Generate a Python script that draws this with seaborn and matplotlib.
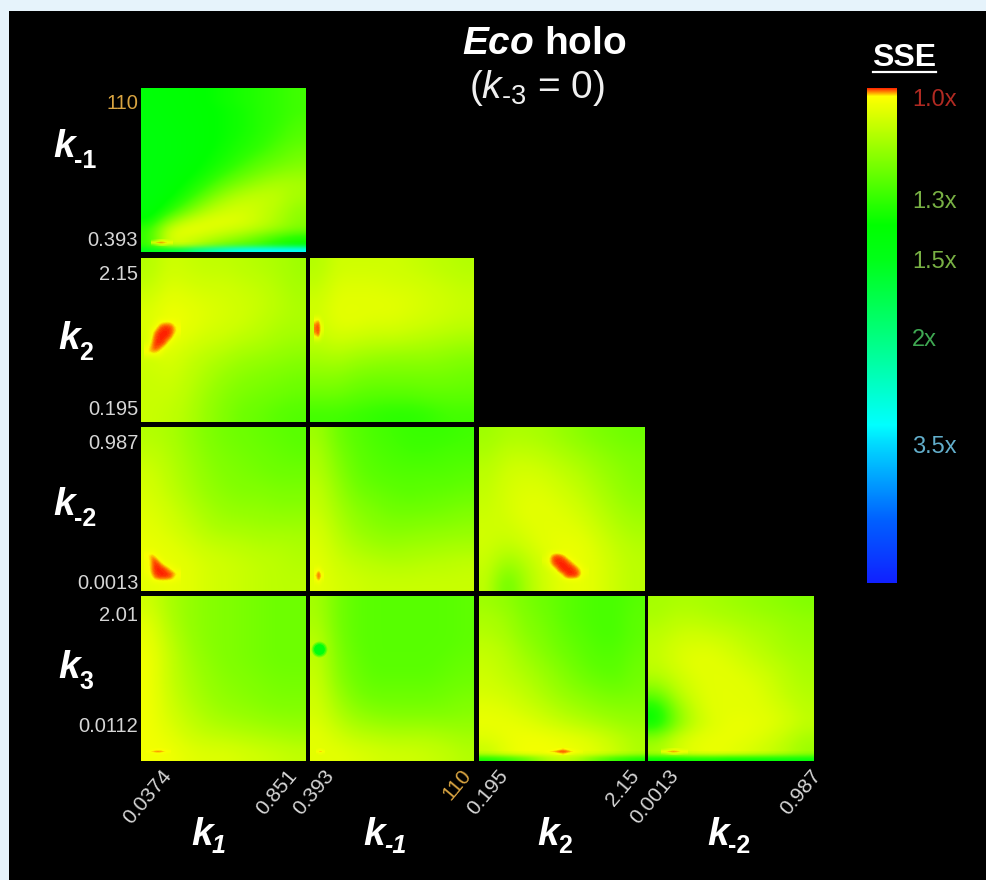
import numpy as np
import pandas as pd
import seaborn as sns
import matplotlib.pyplot as plt
from matplotlib.colors import LinearSegmentedColormap, FuncNorm
from matplotlib.lines import Line2D
from matplotlib.patches import Rectangle

# colour scale
sse_stops = [1.0, 1.005, 1.012, 1.09, 1.26, 1.30, 1.38, 1.5, 2.0, 3.0, 3.5, 5.5, 8.0]
bar_rows = [88, 91, 96, 124, 185, 200, 225, 260, 338, 425, 445, 520, 583]
bar_colors = ['#ff2000', '#ff7000', '#ffff00', '#c8ff00', '#50ff00', '#30ff00', '#00ff00',
              '#00ff18', '#00ff80', '#00ffff', '#00d8ff', '#0060ff', '#1020ff']
sse_ticks = ['1.0x', '1.3x', '1.5x', '2x', '3.5x']
sse_tick_at = [1.024, 1.305, 1.51, 2.02, 3.55]
sse_tick_colors = ['#b02a22', '#78b044', '#78b044', '#3fa852', '#62aecb']

# SSE ratio per panel, rows top to bottom
k_m1_vs_k1 = [
    [1.42, 1.40, 1.40, 1.38, 1.36, 1.34, 1.32, 1.30, 1.28],
    [1.42, 1.41, 1.40, 1.38, 1.36, 1.34, 1.32, 1.30, 1.28],
    [1.43, 1.41, 1.40, 1.39, 1.37, 1.35, 1.32, 1.30, 1.28],
    [1.43, 1.42, 1.40, 1.39, 1.37, 1.35, 1.32, 1.30, 1.27],
    [1.44, 1.42, 1.41, 1.39, 1.37, 1.35, 1.32, 1.29, 1.26],
    [1.44, 1.43, 1.41, 1.39, 1.37, 1.34, 1.31, 1.28, 1.25],
    [1.44, 1.43, 1.41, 1.39, 1.36, 1.33, 1.30, 1.26, 1.23],
    [1.44, 1.43, 1.41, 1.38, 1.35, 1.31, 1.27, 1.24, 1.21],
    [1.44, 1.42, 1.40, 1.37, 1.33, 1.28, 1.24, 1.21, 1.19],
    [1.44, 1.42, 1.39, 1.35, 1.29, 1.24, 1.20, 1.17, 1.16],
    [1.44, 1.41, 1.37, 1.31, 1.24, 1.19, 1.15, 1.13, 1.14],
    [1.44, 1.40, 1.34, 1.26, 1.18, 1.13, 1.11, 1.11, 1.14],
    [1.43, 1.37, 1.29, 1.19, 1.12, 1.09, 1.09, 1.11, 1.15],
    [1.42, 1.32, 1.21, 1.12, 1.08, 1.07, 1.09, 1.12, 1.17],
    [1.38, 1.20, 1.10, 1.06, 1.05, 1.06, 1.09, 1.13, 1.18],
    [1.30, 1.08, 1.04, 1.05, 1.07, 1.09, 1.12, 1.16, 1.20],
    [1.30, 1.05, 1.07, 1.10, 1.14, 1.18, 1.24, 1.30, 1.34],
    [1.30, 1.08, 1.10, 1.18, 1.24, 1.28, 1.30, 1.34, 1.38],
]
k2_vs_k1 = [
    [1.12, 1.08, 1.09, 1.10, 1.10, 1.11, 1.12, 1.13, 1.15],
    [1.10, 1.06, 1.07, 1.08, 1.08, 1.09, 1.10, 1.12, 1.14],
    [1.07, 1.04, 1.05, 1.06, 1.07, 1.08, 1.09, 1.11, 1.13],
    [1.06, 1.03, 1.04, 1.06, 1.07, 1.08, 1.10, 1.12, 1.13],
    [1.07, 1.04, 1.06, 1.08, 1.09, 1.11, 1.12, 1.14, 1.15],
    [1.08, 1.06, 1.09, 1.11, 1.13, 1.15, 1.16, 1.17, 1.18],
    [1.09, 1.08, 1.10, 1.13, 1.16, 1.18, 1.19, 1.20, 1.21],
    [1.09, 1.09, 1.11, 1.15, 1.18, 1.20, 1.21, 1.22, 1.23],
    [1.09, 1.10, 1.12, 1.16, 1.19, 1.22, 1.23, 1.25, 1.26],
]
k2_vs_k_m1 = [
    [1.12, 1.08, 1.08, 1.08, 1.08, 1.09, 1.10, 1.11, 1.12],
    [1.10, 1.06, 1.06, 1.06, 1.07, 1.07, 1.08, 1.09, 1.10],
    [1.08, 1.05, 1.05, 1.05, 1.05, 1.06, 1.07, 1.08, 1.09],
    [1.08, 1.05, 1.05, 1.06, 1.06, 1.07, 1.08, 1.09, 1.10],
    [1.10, 1.08, 1.09, 1.10, 1.10, 1.11, 1.12, 1.13, 1.14],
    [1.14, 1.13, 1.15, 1.16, 1.17, 1.17, 1.17, 1.18, 1.19],
    [1.18, 1.18, 1.20, 1.21, 1.21, 1.21, 1.21, 1.21, 1.22],
    [1.22, 1.22, 1.24, 1.25, 1.25, 1.25, 1.24, 1.24, 1.24],
    [1.28, 1.28, 1.29, 1.30, 1.31, 1.31, 1.30, 1.28, 1.28],
]
k_m2_vs_k1 = [
    [1.12, 1.13, 1.16, 1.19, 1.21, 1.22, 1.23, 1.24, 1.25],
    [1.10, 1.12, 1.15, 1.18, 1.20, 1.21, 1.22, 1.23, 1.24],
    [1.08, 1.11, 1.14, 1.17, 1.19, 1.20, 1.21, 1.22, 1.22],
    [1.07, 1.10, 1.13, 1.16, 1.18, 1.19, 1.19, 1.20, 1.20],
    [1.06, 1.08, 1.11, 1.14, 1.16, 1.17, 1.17, 1.18, 1.18],
    [1.05, 1.07, 1.09, 1.12, 1.14, 1.14, 1.15, 1.15, 1.15],
    [1.04, 1.05, 1.07, 1.09, 1.10, 1.11, 1.12, 1.12, 1.13],
    [1.04, 1.04, 1.05, 1.07, 1.08, 1.09, 1.10, 1.11, 1.12],
    [1.05, 1.04, 1.05, 1.07, 1.08, 1.09, 1.10, 1.11, 1.11],
]
k_m2_vs_k_m1 = [
    [1.15, 1.22, 1.25, 1.27, 1.28, 1.29, 1.29, 1.29, 1.28],
    [1.13, 1.20, 1.24, 1.26, 1.27, 1.28, 1.28, 1.27, 1.27],
    [1.12, 1.18, 1.23, 1.25, 1.26, 1.26, 1.26, 1.26, 1.25],
    [1.10, 1.16, 1.21, 1.23, 1.24, 1.25, 1.24, 1.24, 1.23],
    [1.09, 1.14, 1.18, 1.20, 1.22, 1.22, 1.22, 1.21, 1.20],
    [1.07, 1.12, 1.16, 1.18, 1.19, 1.19, 1.18, 1.18, 1.17],
    [1.06, 1.10, 1.13, 1.15, 1.16, 1.15, 1.15, 1.14, 1.14],
    [1.05, 1.08, 1.10, 1.11, 1.12, 1.12, 1.11, 1.11, 1.10],
    [1.05, 1.07, 1.08, 1.09, 1.09, 1.09, 1.09, 1.09, 1.09],
]
k_m2_vs_k2 = [
    [1.15, 1.13, 1.13, 1.14, 1.16, 1.18, 1.20, 1.21, 1.22],
    [1.13, 1.10, 1.10, 1.11, 1.13, 1.15, 1.17, 1.19, 1.20],
    [1.11, 1.08, 1.07, 1.08, 1.10, 1.12, 1.15, 1.17, 1.19],
    [1.10, 1.07, 1.06, 1.06, 1.08, 1.10, 1.13, 1.16, 1.18],
    [1.09, 1.07, 1.05, 1.05, 1.06, 1.08, 1.11, 1.14, 1.16],
    [1.08, 1.08, 1.06, 1.05, 1.05, 1.06, 1.09, 1.12, 1.14],
    [1.08, 1.10, 1.08, 1.05, 1.04, 1.04, 1.07, 1.10, 1.12],
    [1.09, 1.16, 1.12, 1.07, 1.04, 1.04, 1.06, 1.09, 1.11],
    [1.10, 1.24, 1.14, 1.08, 1.05, 1.04, 1.06, 1.09, 1.11],
]
k3_vs_k1 = [
    [1.08, 1.13, 1.16, 1.18, 1.19, 1.20, 1.21, 1.22, 1.22],
    [1.05, 1.12, 1.16, 1.18, 1.19, 1.20, 1.21, 1.22, 1.22],
    [1.04, 1.10, 1.15, 1.18, 1.19, 1.20, 1.21, 1.22, 1.22],
    [1.03, 1.09, 1.14, 1.17, 1.19, 1.20, 1.21, 1.22, 1.22],
    [1.03, 1.09, 1.13, 1.16, 1.18, 1.19, 1.20, 1.21, 1.21],
    [1.03, 1.08, 1.12, 1.15, 1.17, 1.18, 1.19, 1.20, 1.20],
    [1.03, 1.07, 1.10, 1.13, 1.15, 1.16, 1.17, 1.18, 1.18],
    [1.03, 1.05, 1.08, 1.10, 1.11, 1.12, 1.13, 1.14, 1.15],
    [1.03, 1.03, 1.05, 1.06, 1.06, 1.07, 1.08, 1.09, 1.10],
]
k3_vs_k_m1 = [
    [1.14, 1.21, 1.24, 1.25, 1.25, 1.25, 1.25, 1.25, 1.24],
    [1.13, 1.21, 1.24, 1.25, 1.25, 1.25, 1.25, 1.25, 1.24],
    [1.11, 1.20, 1.24, 1.25, 1.25, 1.25, 1.25, 1.25, 1.24],
    [1.10, 1.19, 1.23, 1.25, 1.25, 1.25, 1.25, 1.24, 1.23],
    [1.09, 1.18, 1.22, 1.24, 1.24, 1.24, 1.24, 1.23, 1.22],
    [1.08, 1.15, 1.20, 1.22, 1.22, 1.22, 1.22, 1.21, 1.20],
    [1.07, 1.12, 1.16, 1.18, 1.19, 1.19, 1.19, 1.19, 1.18],
    [1.05, 1.08, 1.11, 1.12, 1.13, 1.13, 1.13, 1.14, 1.15],
    [1.05, 1.05, 1.06, 1.07, 1.08, 1.08, 1.09, 1.10, 1.12],
]
k3_vs_k2 = [
    [1.15, 1.17, 1.20, 1.22, 1.24, 1.26, 1.27, 1.27, 1.25],
    [1.13, 1.15, 1.19, 1.21, 1.24, 1.26, 1.27, 1.27, 1.24],
    [1.12, 1.14, 1.18, 1.20, 1.23, 1.25, 1.27, 1.27, 1.24],
    [1.10, 1.12, 1.16, 1.19, 1.22, 1.24, 1.26, 1.26, 1.23],
    [1.09, 1.11, 1.14, 1.17, 1.20, 1.23, 1.25, 1.25, 1.22],
    [1.08, 1.10, 1.12, 1.15, 1.18, 1.21, 1.23, 1.24, 1.21],
    [1.07, 1.08, 1.10, 1.13, 1.16, 1.18, 1.20, 1.21, 1.20],
    [1.05, 1.06, 1.08, 1.10, 1.13, 1.15, 1.17, 1.18, 1.18],
    [1.04, 1.04, 1.05, 1.07, 1.09, 1.11, 1.13, 1.15, 1.16],
    [1.06, 1.04, 1.03, 1.03, 1.04, 1.05, 1.07, 1.10, 1.13],
    [1.10, 1.05, 1.03, 1.03, 1.03, 1.04, 1.06, 1.09, 1.13],
]
k3_vs_k_m2 = [
    [1.14, 1.13, 1.13, 1.14, 1.15, 1.16, 1.17, 1.18, 1.19],
    [1.13, 1.11, 1.11, 1.12, 1.13, 1.14, 1.15, 1.16, 1.17],
    [1.11, 1.09, 1.08, 1.09, 1.10, 1.12, 1.13, 1.15, 1.16],
    [1.10, 1.07, 1.06, 1.06, 1.08, 1.10, 1.12, 1.14, 1.15],
    [1.10, 1.07, 1.05, 1.05, 1.06, 1.08, 1.10, 1.12, 1.14],
    [1.13, 1.09, 1.06, 1.05, 1.05, 1.06, 1.08, 1.11, 1.13],
    [1.22, 1.12, 1.07, 1.05, 1.05, 1.05, 1.07, 1.10, 1.12],
    [1.36, 1.18, 1.09, 1.05, 1.05, 1.05, 1.06, 1.08, 1.11],
    [1.38, 1.20, 1.10, 1.06, 1.04, 1.04, 1.05, 1.07, 1.10],
    [1.16, 1.08, 1.05, 1.04, 1.04, 1.05, 1.07, 1.10, 1.14],
    [1.14, 1.08, 1.05, 1.04, 1.05, 1.07, 1.09, 1.12, 1.16],
]

# thin band along the bottom edge of three panels
edge_a = [1.5, 1.6, 1.8, 2.2, 2.6, 2.9, 3.0, 3.0, 3.0]
edge_i = [1.35, 1.30, 1.25, 1.15, 1.10, 1.15, 1.25, 1.30, 1.35]
edge_j = [1.40, 1.38, 1.36, 1.36, 1.38, 1.40, 1.42, 1.44, 1.44]

# best-fit minima, finer than the panel grids
# each: x from, x to, y from, y to (share of panel), then the values
min_a_box = (0.06, 0.19, 0.925, 0.965)
min_a = [[1.03, 1.025, 1.02, 1.025, 1.03],
         [1.01, 1.0, 1.0, 1.004, 1.012],
         [1.03, 1.025, 1.02, 1.025, 1.03]]
min_b_box = (0.02, 0.24, 0.34, 0.64)
min_b = [[1.03, 1.03, 1.03, 1.03, 1.03, 1.03],
         [1.03, 1.03, 1.008, 1.002, 1.004, 1.02],
         [1.03, 1.01, 1.0, 1.0, 1.001, 1.012],
         [1.03, 1.004, 1.0, 1.0, 1.003, 1.03],
         [1.02, 1.002, 1.0, 1.004, 1.03, 1.03],
         [1.01, 1.004, 1.01, 1.03, 1.03, 1.03],
         [1.03, 1.03, 1.03, 1.03, 1.03, 1.03]]
min_c_box = (0.025, 0.085, 0.33, 0.53)
min_c = [[1.03, 1.03, 1.03],
         [1.012, 1.004, 1.03],
         [1.006, 1.0, 1.02],
         [1.006, 1.0, 1.02],
         [1.012, 1.002, 1.03],
         [1.03, 1.03, 1.03]]
min_d_box = (0.02, 0.24, 0.72, 0.98)
min_d = [[1.03, 1.03, 1.03, 1.03, 1.03, 1.03],
         [1.012, 1.004, 1.03, 1.03, 1.03, 1.03],
         [1.02, 1.0, 1.006, 1.03, 1.03, 1.03],
         [1.02, 1.0, 1.0, 1.004, 1.02, 1.03],
         [1.02, 1.002, 1.0, 1.0, 1.002, 1.012],
         [1.03, 1.008, 1.001, 1.001, 1.004, 1.02],
         [1.03, 1.03, 1.03, 1.03, 1.03, 1.03]]
min_e_box = (0.025, 0.085, 0.83, 0.99)
min_e = [[1.03, 1.03, 1.03],
         [1.02, 1.004, 1.03],
         [1.01, 1.0, 1.01],
         [1.02, 1.002, 1.03],
         [1.03, 1.03, 1.03]]
min_f_box = (0.38, 0.66, 0.73, 0.97)
min_f = [[1.03, 1.03, 1.03, 1.03, 1.03, 1.03, 1.03],
         [1.03, 1.004, 1.002, 1.012, 1.03, 1.03, 1.03],
         [1.02, 1.002, 1.0, 1.001, 1.012, 1.03, 1.03],
         [1.03, 1.006, 1.0, 1.0, 1.001, 1.012, 1.03],
         [1.03, 1.03, 1.002, 1.0, 1.0, 1.002, 1.02],
         [1.03, 1.03, 1.03, 1.002, 1.001, 1.004, 1.03],
         [1.03, 1.03, 1.03, 1.03, 1.03, 1.03, 1.03]]
min_g_box = (0.03, 0.18, 0.925, 0.965)
min_g = [[1.03, 1.025, 1.02, 1.02, 1.025, 1.03],
         [1.01, 1.002, 1.0, 1.0, 1.004, 1.012],
         [1.03, 1.025, 1.02, 1.02, 1.025, 1.03]]
min_h_box = (0.035, 0.085, 0.925, 0.965)
min_h = [[1.03, 1.02, 1.03],
         [1.01, 1.0, 1.01],
         [1.03, 1.02, 1.03]]
min_i_box = (0.37, 0.63, 0.925, 0.965)
min_i = [[1.03, 1.03, 1.025, 1.015, 1.01, 1.02, 1.03, 1.03],
         [1.02, 1.004, 1.002, 1.0, 1.0, 1.002, 1.006, 1.02],
         [1.03, 1.03, 1.025, 1.015, 1.01, 1.02, 1.03, 1.03]]
min_j_box = (0.08, 0.24, 0.925, 0.965)
min_j = [[1.03, 1.025, 1.02, 1.025, 1.03],
         [1.01, 1.0, 1.0, 1.004, 1.012],
         [1.03, 1.025, 1.02, 1.025, 1.03]]

# the lone green point in the k3 / k-1 panel
dot_x, dot_y, dot_sse = 0.055, 0.32, 1.45

# labels
row_names = ['-1', '2', '-2', '3']
col_names = ['1', '-1', '2', '-2']
row_ticks = [('110', '0.393'), ('2.15', '0.195'), ('0.987', '0.0013'), ('2.01', '0.0112')]
row_tick_at = [(0.08, 0.915), (0.09, 0.91), (0.09, 0.94), (0.105, 0.78)]
col_ticks = [('0.0374', '0.851'), ('0.393', '110'), ('0.195', '2.15'), ('0.0013', '0.987')]
col_tick_at = [(0.12, 0.88), (0.08, 0.92), (0.11, 0.905), (0.12, 0.98)]

W, H = 987, 880
bg = '#e6f3fb'
tick_grey = '#d6d6d6'
orange = '#d9a441'

plt.rcParams['font.family'] = ['Liberation Sans', 'DejaVu Sans']
plt.rcParams['mathtext.fontset'] = 'custom'
plt.rcParams['mathtext.rm'] = 'Liberation Sans'
plt.rcParams['mathtext.it'] = 'Liberation Sans:italic'
plt.rcParams['mathtext.bf'] = 'Liberation Sans:bold'
plt.rcParams['mathtext.bfit'] = 'Liberation Sans:italic:bold'


def px_axes(fig, left, top, right, bottom):
    return fig.add_axes([left / W, 1 - bottom / H, (right - left) / W, (bottom - top) / H])


def fig_text(fig, x, y, s, **kws):
    return fig.text(x / W, 1 - y / H, s, **kws)


bar_pos = (np.array(bar_rows) - bar_rows[0]) / (bar_rows[-1] - bar_rows[0])
cmap = LinearSegmentedColormap.from_list('sse', list(zip(bar_pos, bar_colors)), N=1024)
norm = FuncNorm((lambda v: np.interp(v, sse_stops, bar_pos),
                 lambda f: np.interp(f, bar_pos, sse_stops)),
                vmin=sse_stops[0], vmax=sse_stops[-1])

fig = plt.figure(figsize=(W / 100, H / 100), dpi=100, facecolor=bg)
fig.add_artist(Rectangle((9 / W, 0), 1 - 9 / W, 1 - 11 / H, transform=fig.transFigure,
                         facecolor='black', edgecolor='none', zorder=-1))

col_px = [(141, 306), (310, 474), (479, 644), (648, 814)]
row_px = [(88, 252), (258, 422), (427, 591), (596, 761)]

# row, column, grid, minimum grid, its box, bottom band
panels = [
    (0, 0, k_m1_vs_k1, min_a, min_a_box, edge_a),
    (1, 0, k2_vs_k1, min_b, min_b_box, None),
    (1, 1, k2_vs_k_m1, min_c, min_c_box, None),
    (2, 0, k_m2_vs_k1, min_d, min_d_box, None),
    (2, 1, k_m2_vs_k_m1, min_e, min_e_box, None),
    (2, 2, k_m2_vs_k2, min_f, min_f_box, None),
    (3, 0, k3_vs_k1, min_g, min_g_box, None),
    (3, 1, k3_vs_k_m1, min_h, min_h_box, None),
    (3, 2, k3_vs_k2, min_i, min_i_box, edge_i),
    (3, 3, k3_vs_k_m2, min_j, min_j_box, edge_j),
]

for r, c, grid, spot, box, edge in panels:
    ax = px_axes(fig, col_px[c][0], row_px[r][0], col_px[c][1], row_px[r][1])
    df = pd.DataFrame(grid)
    n_rows, n_cols = df.shape
    sns.heatmap(df, ax=ax, cmap=cmap, norm=norm, cbar=False, square=False,
                xticklabels=False, yticklabels=False)
    # same grid again, smoothed for display
    ax.imshow(df.values, cmap=cmap, norm=norm, aspect='auto', interpolation='bicubic',
              interpolation_stage='data', extent=(0, n_cols, n_rows, 0), zorder=2)
    if edge is not None:
        band = np.array([edge, edge])
        fade = np.array([np.zeros(len(edge)), np.ones(len(edge))])
        ax.imshow(band, cmap=cmap, norm=norm, aspect='auto', interpolation='bicubic',
                  interpolation_stage='data', alpha=fade,
                  extent=(0, n_cols, n_rows, 0.94 * n_rows), zorder=2.5)
    spot = np.array(spot)
    x0, x1, y0, y1 = box
    ax.imshow(spot, cmap=cmap, norm=norm, aspect='auto', interpolation='bicubic',
              interpolation_stage='data', alpha=np.clip((1.03 - spot) / 0.02, 0, 1),
              extent=(x0 * n_cols, x1 * n_cols, y1 * n_rows, y0 * n_rows), zorder=3)
    if (r, c) == (3, 1):
        for size, alpha in [(130, 0.3), (95, 0.5), (60, 1)]:
            ax.scatter(dot_x * n_cols, dot_y * n_rows, s=size, color=cmap(norm(dot_sse)),
                       alpha=alpha, linewidths=0, zorder=4)
    ax.set_xlim(0, n_cols)
    ax.set_ylim(n_rows, 0)
    ax.set_xlabel('')
    ax.set_ylabel('')
    if c == 0:
        ax.set_yticks([row_tick_at[r][0] * n_rows, row_tick_at[r][1] * n_rows])
        ax.set_yticklabels(row_ticks[r], fontsize=14.5, color=tick_grey)
        ax.tick_params(axis='y', length=0, pad=2)
        if row_ticks[r][0] == '110':
            ax.get_yticklabels()[0].set_color(orange)
    if r == 3:
        for lab, at in zip(col_ticks[c], col_tick_at[c]):
            ax.text(at, -0.03, lab, transform=ax.transAxes, fontsize=15, rotation=50,
                    color=orange if lab == '110' else tick_grey, ha='right', va='top',
                    rotation_mode='anchor', clip_on=False)

# big k labels beside and below the grid
row_lab_xy = [(53, 157), (58, 349), (53, 515), (58, 678)]
for (x, y), sub in zip(row_lab_xy, row_names):
    fig_text(fig, x, y, 'k', fontsize=28, color='white', fontweight='bold',
             fontstyle='italic', ha='left', va='baseline')
    fig_text(fig, x + 21, y + 11, sub, fontsize=18, color='white', fontweight='bold',
             ha='left', va='baseline')
col_lab_xy = [(191, 845), (363, 845), (537, 845), (707, 845)]
for (x, y), sub in zip(col_lab_xy, col_names):
    fig_text(fig, x, y, 'k', fontsize=28, color='white', fontweight='bold',
             fontstyle='italic', ha='left', va='baseline')
    fig_text(fig, x + 21, y + 8, sub, fontsize=18, color='white', fontweight='bold',
             fontstyle='italic' if sub in ('1', '-1') else 'normal', ha='left', va='baseline')

# title
fig_text(fig, 544, 54, r'$\mathbfit{Eco}$ $\mathbf{holo}$', fontsize=28, color='white',
         ha='center', va='baseline')
fig_text(fig, 537, 98, r'($\mathit{k}_{\mathrm{\text{-}3}}$ = 0)', fontsize=28, color='#f0f0f0',
         ha='center', va='baseline')

# colour bar
cax = px_axes(fig, 867, 88, 897, 583)
probe = fig.add_axes([0, 0, 0.001, 0.001])
sns.heatmap(pd.DataFrame(k2_vs_k1), ax=probe, cmap=cmap, norm=norm, cbar=True, cbar_ax=cax,
            cbar_kws={'ticks': []}, xticklabels=False, yticklabels=False)
probe.set_visible(False)
cax.invert_yaxis()
cax.tick_params(length=0)
for side in cax.spines.values():
    side.set_visible(False)
for lab, at, col in zip(sse_ticks, sse_tick_at, sse_tick_colors):
    cax.text(1.5, at, lab, color=col, fontsize=17, ha='left', va='center', clip_on=False)

fig_text(fig, 904, 66, 'SSE', fontsize=23, color='white', fontweight='bold',
         ha='center', va='baseline')
fig.add_artist(Line2D([873 / W, 936 / W], [1 - 72 / H, 1 - 72 / H], color='white', linewidth=1.6))

fig.savefig('out.png', dpi=100, facecolor=bg)
